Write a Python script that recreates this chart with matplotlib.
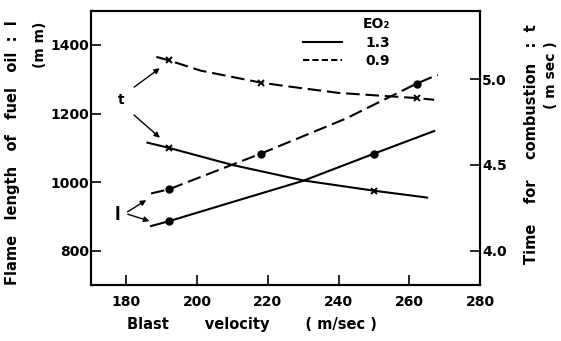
import matplotlib.pyplot as plt
from matplotlib.lines import Line2D

plt.rcParams['font.family'] = 'DejaVu Sans'
plt.rcParams['font.weight'] = 'bold'

# flame length l (mm), left axis
vel_l13 = [187, 192, 210, 230, 250, 267]
len_l13 = [872, 886, 942, 1004, 1083, 1149]
vel_l09 = [187, 192, 218, 242, 262, 268]
len_l09 = [967, 979, 1083, 1185, 1287, 1313]

# time for combustion t (msec), right axis
vel_t13 = [186, 192, 210, 230, 250, 265]
time_t13 = [4.63, 4.60, 4.50, 4.41, 4.35, 4.31]
vel_t09 = [188.5, 192, 201, 218, 225, 240, 262, 267]
time_t09 = [5.13, 5.11, 5.05, 4.98, 4.96, 4.92, 4.89, 4.88]

x_ticks = [180, 200, 220, 240, 260, 280]
l_ticks = [800, 1000, 1200, 1400]
t_ticks = [4.0, 4.5, 5.0]

DASH = (6.5, 2.8)
FS = 10
LFS = 10.5

fig = plt.figure(figsize=(5.61, 3.41), dpi=100)
ax = fig.add_axes([0.162, 0.164, 0.694, 0.805])
ax2 = ax.twinx()

ax.plot(vel_l13, len_l13, 'k-', lw=1.5, marker='o', ms=5, markevery=[1, 4])
ax.plot(vel_l09, len_l09, 'k--', lw=1.5, dashes=DASH, marker='o', ms=5, markevery=[1, 2, 4])
ax2.plot(vel_t13, time_t13, 'k-', lw=1.5, marker='x', ms=4.5, mew=1.4, markevery=[1, 4])
ax2.plot(vel_t09, time_t09, 'k--', lw=1.5, dashes=DASH, marker='x', ms=4.5, mew=1.4, markevery=[1, 3, 6])

ax.set_xlim(170, 280)
ax.set_ylim(700, 1500)
ax2.set_ylim(3.8, 5.4)
ax.set_xticks(x_ticks)
ax.set_yticks(l_ticks)
ax2.set_yticks(t_ticks)
ax2.set_yticklabels(['%.1f' % v for v in t_ticks])

for a in (ax, ax2):
    for s in a.spines.values():
        s.set_linewidth(1.5)
ax.tick_params(axis='both', direction='in', length=7, width=1.2, labelsize=FS)
ax.tick_params(axis='x', pad=7)
ax.tick_params(axis='y', pad=1.5)
ax2.tick_params(axis='y', direction='in', length=7, width=1.2, labelsize=FS, pad=1.5)

# arrows pointing from the l / t markers to their curves
arrow = dict(arrowstyle='-|>', color='k', lw=1.0, mutation_scale=8)
ax.text(178.5, 1240, 't', fontsize=FS, ha='center', va='center')
ax.annotate('', xy=(190.1, 1337), xytext=(181.6, 1272), arrowprops=arrow)
ax.annotate('', xy=(190.1, 1124), xytext=(181.6, 1201), arrowprops=arrow)
ax.text(177.4, 904, 'l', fontsize=FS + 2, ha='center', va='center')
ax.annotate('', xy=(186.3, 952), xytext=(179.7, 909), arrowprops=arrow)
ax.annotate('', xy=(187.3, 884), xytext=(179.7, 909), arrowprops=arrow)

handles = [Line2D([], [], color='k', lw=1.5),
           Line2D([], [], color='k', lw=1.5, ls='--', dashes=(3, 1.5))]
ax.legend(handles, ['1.3', '0.9'], title='EO₂', title_fontproperties={'size': FS, 'weight': 'bold'},
          fontsize=FS, frameon=False, loc='upper left', bbox_to_anchor=(0.545, 0.975),
          borderpad=0, borderaxespad=0, handlelength=2.8, handletextpad=1.7,
          labelspacing=0.3, alignment='right')

fig.text(13 / 561, 1 - 153 / 341, 'Flame   length   of   fuel   oil  :  l', rotation=90,
         ha='center', va='center', fontsize=LFS)
fig.text(40 / 561, 1 - 45 / 341, '(m m)', rotation=90, ha='center', va='center', fontsize=FS)
fig.text(532 / 561, 1 - 144 / 341, 'Time    for    combustion   :  t', rotation=90,
         ha='center', va='center', fontsize=LFS)
fig.text(551 / 561, 1 - 75 / 341, '( m sec )', rotation=90, ha='center', va='center', fontsize=FS)
fig.text(252 / 561, 1 - 325 / 341, 'Blast       velocity       ( m/sec )', ha='center', va='center',
         fontsize=LFS)

fig.savefig('out.png', dpi=100)
